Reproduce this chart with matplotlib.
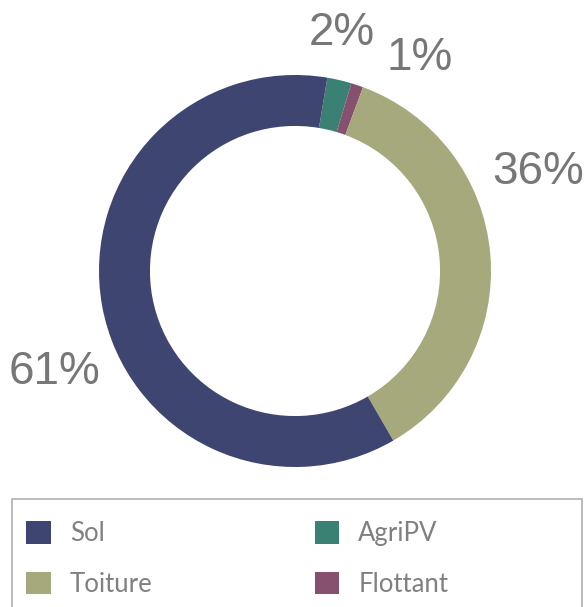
import matplotlib.pyplot as plt
from matplotlib.patches import Rectangle
import numpy as np

# donnees du graphique (ordre horaire depuis le haut)
categories = ['AgriPV', 'Flottant', 'Toiture', 'Sol']
values = [2, 1, 36, 61]
colors = ['#3a8073', '#86506f', '#a6a97c', '#3f4571']
pctLabels = ['2%', '1%', '36%', '61%']
# positions des etiquettes (rayon, angle en degres)
labelPos = [(1.24, 78.8), (1.26, 59.8), (1.34, 22.2), (1.33, 202.8)]
legendOrder = ['Sol', 'Toiture', 'AgriPV', 'Flottant']

W, H = 588, 607
fig = plt.figure(figsize=(W / 100, H / 100), dpi=100)

cx, cy, R = 295, 271, 196
ax = fig.add_axes([(cx - R) / W, (H - cy - R) / H, 2 * R / W, 2 * R / H])
wedges, _ = ax.pie(values, colors=colors, startangle=80.5, counterclock=False,
                   radius=1, wedgeprops=dict(width=0.26, linewidth=0))
ax.set_xlim(-1, 1)
ax.set_ylim(-1, 1)
ax.set_aspect('equal')
ax.axis('off')

for txt, (r, a) in zip(pctLabels, labelPos):
    ax.text(r * np.cos(np.radians(a)), r * np.sin(np.radians(a)), txt,
            ha='center', va='center', fontsize=33, color='#777777',
            family='Liberation Sans', clip_on=False)

# cadre de la legende
fig.patches.append(Rectangle((12 / W, -0.05), (582 - 12) / W, (H - 499) / H + 0.05,
                             transform=fig.transFigure, fill=False,
                             edgecolor='#b0b0b0', linewidth=1.2))

handles = [wedges[categories.index(c)] for c in legendOrder]
fig.legend(handles, legendOrder, ncol=2, loc='upper left',
           bbox_to_anchor=(16 / W, (H - 511) / H), frameon=False,
           prop=dict(family='Lato', size=18.5), labelcolor='#808080',
           handlelength=0.95, handleheight=0.95, handletextpad=0.75,
           columnspacing=6.3, labelspacing=1.0, borderaxespad=0)

fig.savefig('out.png', dpi=100)
